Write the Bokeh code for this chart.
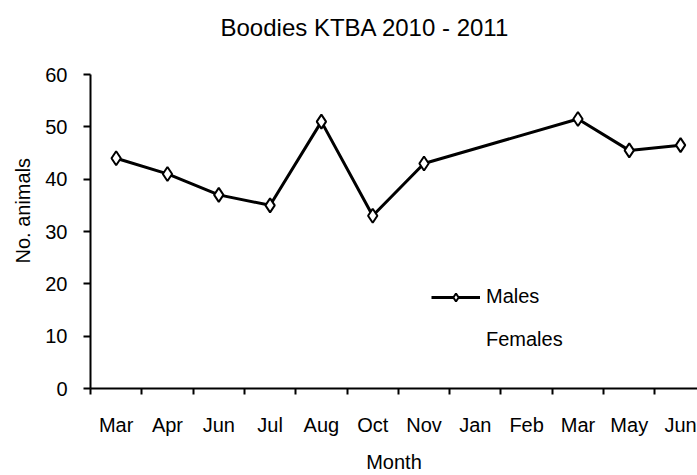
from bokeh.plotting import figure
from bokeh.models import Range1d, FixedTicker, Legend, LegendItem, Title
from bokeh.embed import file_html
from bokeh.resources import INLINE

# ---- data ----
months = ["Mar", "Apr", "Jun", "Jul", "Aug", "Oct", "Nov", "Jan", "Feb", "Mar", "May", "Jun"]
males = [44, 41, 37, 35, 51, 33, 43, None, None, 51.5, 45.5, 46.5]
females = [None] * 12
y_ticks = [0, 10, 20, 30, 40, 50, 60]
title_text = "Boodies KTBA 2010 - 2011"
x_title = "Month"
y_title = "No. animals"

FONT = "Liberation Sans"

pos = [i + 0.5 for i in range(len(months))]
bounds = list(range(len(months) + 1))
mx = [p_ for p_, v in zip(pos, males) if v is not None]
my = [v for v in males if v is not None]
fx = [p_ for p_, v in zip(pos, females) if v is not None]
fy = [v for v in females if v is not None]

p = figure(width=697, height=475, output_backend="svg", toolbar_location=None,
           title=None,
           x_range=Range1d(0, 11.83), y_range=Range1d(0, 60),
           min_border_left=90, min_border_right=0, min_border_top=74, min_border_bottom=84,
           background_fill_color="white", border_fill_color="white")
p.outline_line_color = None
p.grid.visible = False

# x axis
xa = p.xaxis[0]
xa.ticker = FixedTicker(ticks=pos, minor_ticks=bounds)
xa.major_label_overrides = {t: m for t, m in zip(pos, months)}
xa.major_tick_line_color = None
xa.minor_tick_line_color = "black"
xa.minor_tick_line_width = 2
xa.minor_tick_out = 6
xa.minor_tick_in = 0
xa.axis_line_width = 2
xa.axis_line_color = "black"
xa.major_label_text_font = FONT
xa.major_label_text_font_size = "20px"
xa.major_label_text_color = "black"
xa.major_label_standoff = 19
xa.axis_label = x_title
xa.axis_label_text_font = FONT
xa.axis_label_text_font_size = "20px"
xa.axis_label_text_font_style = "normal"
xa.axis_label_text_color = "black"
xa.axis_label_standoff = 12

# y axis
ya = p.yaxis[0]
ya.ticker = FixedTicker(ticks=y_ticks, minor_ticks=[])
ya.major_tick_out = 7
ya.major_tick_in = 0
ya.major_tick_line_width = 2
ya.major_tick_line_color = "black"
ya.axis_line_width = 2
ya.axis_line_color = "black"
ya.major_label_text_font = FONT
ya.major_label_text_font_size = "20px"
ya.major_label_text_color = "black"
ya.major_label_standoff = 16

# chart title: a thin spacer next to the frame, then the title text
spacer = Title(text=" ", text_font_size="1px", standoff=31)
p.add_layout(spacer, "above")
main_title = Title(text=title_text, align="left", offset=130, standoff=0,
                   text_font=FONT, text_font_size="24px", text_font_style="normal",
                   text_color="black", vertical_align="bottom")
p.add_layout(main_title, "above")

# y axis title, placed as a side title outside the tick labels
ytitle = Title(text=y_title, align="left", offset=125, standoff=18,
               text_font=FONT, text_font_size="20px", text_font_style="normal",
               text_color="black", vertical_align="bottom")
p.add_layout(ytitle, "left")

# series
ml = p.line(mx, my, line_color="black", line_width=3)
ms = p.scatter(mx, my, marker="diamond", size=14, fill_color="white",
               line_color="black", line_width=2)
fl = p.line(fx, fy, line_color="black", line_width=3, line_alpha=0)

legend = Legend(items=[LegendItem(label="Males", renderers=[ml, ms]),
                       LegendItem(label="Females", renderers=[fl])],
                location=(341, 37), padding=0, margin=0, spacing=20,
                glyph_width=49, glyph_height=20, label_height=20, label_standoff=6,
                label_text_font=FONT, label_text_font_size="20px",
                label_text_color="black",
                border_line_color=None, background_fill_alpha=0)
p.add_layout(legend)

open("out.html", "w").write(file_html(p, INLINE))
